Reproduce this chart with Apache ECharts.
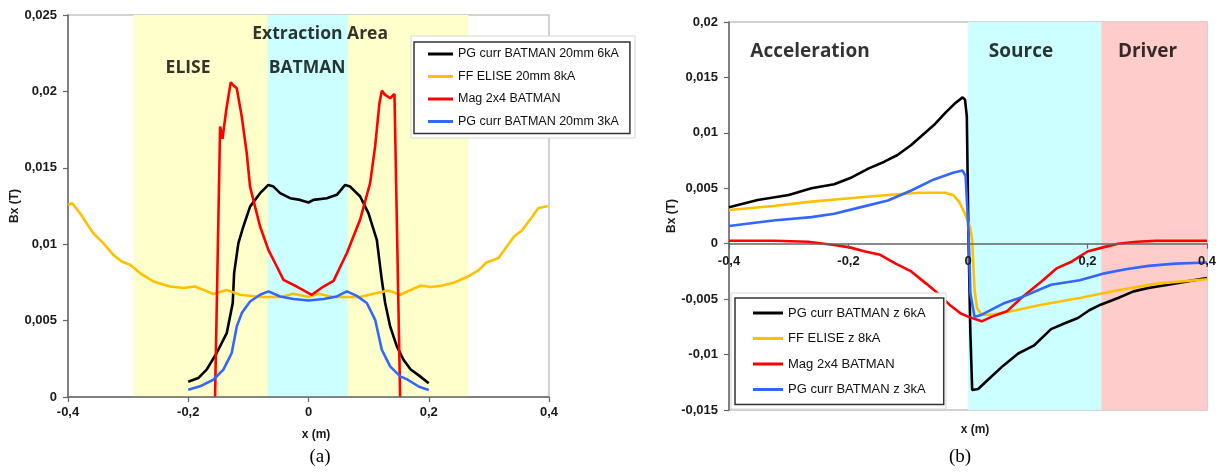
<!DOCTYPE html>
<html><head><meta charset="utf-8">
<script src="https://cdn.jsdelivr.net/npm/echarts@6.0.0/dist/echarts.min.js"></script>
<style>html,body{margin:0;padding:0;background:#fff}#c{width:1220px;height:475px}</style>
</head><body><div id="c"></div>
<script>
// ---------- DATA ----------
const leftNames = ['PG curr BATMAN 20mm 6kA', 'FF ELISE 20mm 8kA', 'Mag 2x4 BATMAN', 'PG curr BATMAN 20mm 3kA'];
const rightNames = ['PG curr BATMAN z 6kA', 'FF ELISE z 8kA', 'Mag 2x4 BATMAN', 'PG curr BATMAN z 3kA'];

const leftBlack = [[-0.2,0.00100],[-0.1833,0.00124],[-0.1694,0.00179],[-0.1527,0.00288],[-0.136,0.00418],[-0.126,0.00615],[-0.1237,0.00811],[-0.1166,0.01007],[-0.1083,0.01116],[-0.0972,0.01246],[-0.0805,0.01334],[-0.0667,0.01388],[-0.0583,0.01377],[-0.0472,0.01334],[-0.0306,0.01301],[-0.0139,0.0129],[0,0.01273],[0.0083,0.0129],[0.0305,0.01301],[0.0471,0.01323],[0.061,0.01388],[0.0693,0.01377],[0.0859,0.01312],[0.0997,0.01203],[0.1136,0.01029],[0.1219,0.00767],[0.1275,0.00615],[0.1358,0.00462],[0.1469,0.00331],[0.158,0.00244],[0.17,0.0018],[0.184,0.0014],[0.2,0.0009]];
const leftYellow = [[-0.4,0.01257],[-0.393,0.01268],[-0.38,0.01203],[-0.358,0.01072],[-0.3413,0.01007],[-0.3246,0.0093],[-0.3107,0.00887],[-0.2968,0.00865],[-0.2802,0.00811],[-0.258,0.00756],[-0.2303,0.00723],[-0.2081,0.00713],[-0.1887,0.00723],[-0.1749,0.00701],[-0.1583,0.00674],[-0.1361,0.00701],[-0.1138,0.00669],[-0.0805,0.00654],[-0.047,0.00654],[-0.025,0.00676],[0,0.00654],[0.0166,0.00676],[0.041,0.00654],[0.0858,0.00654],[0.1081,0.00676],[0.1331,0.00697],[0.1524,0.00669],[0.17,0.0070],[0.187,0.0073],[0.203,0.0072],[0.223,0.0073],[0.243,0.0075],[0.266,0.0079],[0.283,0.0083],[0.296,0.0088],[0.316,0.0091],[0.329,0.0098],[0.342,0.0105],[0.355,0.0109],[0.372,0.0118],[0.382,0.01235],[0.398,0.0125]];
const leftRed = [[-0.1554,0],[-0.147,0.0177],[-0.143,0.0169],[-0.1404,0.0177],[-0.136,0.019],[-0.1293,0.0206],[-0.125,0.0204],[-0.1193,0.0202],[-0.111,0.01835],[-0.1027,0.01595],[-0.0972,0.01377],[-0.0889,0.01246],[-0.0805,0.01116],[-0.0667,0.00963],[-0.0527,0.00854],[-0.0416,0.00767],[-0.0196,0.00723],[0.0055,0.00669],[0.0249,0.00723],[0.0416,0.0076],[0.0638,0.00942],[0.0858,0.0116],[0.1025,0.0140],[0.1108,0.0164],[0.118,0.01923],[0.1219,0.02005],[0.1275,0.01977],[0.1358,0.01955],[0.143,0.01983],[0.1457,0.01977],[0.1524,0]];
const leftBlue = [[-0.2,0.00048],[-0.1805,0.0007],[-0.1583,0.00113],[-0.1416,0.00179],[-0.1277,0.00288],[-0.1193,0.00462],[-0.111,0.00549],[-0.0972,0.00625],[-0.0805,0.00669],[-0.0667,0.00691],[-0.0472,0.00658],[-0.025,0.00641],[0,0.00632],[0.025,0.00641],[0.0471,0.00658],[0.0638,0.00691],[0.0804,0.00662],[0.097,0.00615],[0.1109,0.00505],[0.1219,0.00309],[0.1358,0.0020],[0.1525,0.00135],[0.164,0.00115],[0.184,0.00067],[0.2,0.00046]];

const rightBlack = [[-0.4,0.00328],[-0.352,0.00395],[-0.3,0.0044],[-0.262,0.0050],[-0.224,0.00536],[-0.198,0.0059],[-0.166,0.0068],[-0.14,0.0074],[-0.118,0.0080],[-0.095,0.0089],[-0.076,0.0098],[-0.057,0.0107],[-0.038,0.0118],[-0.021,0.0127],[-0.009,0.0132],[-0.005,0.0130],[-0.002,0.0115],[0.001,0.0],[0.004,-0.0081],[0.007,-0.0132],[0.017,-0.0131],[0.033,-0.0123],[0.059,-0.0110],[0.084,-0.0099],[0.11,-0.0092],[0.139,-0.0077],[0.161,-0.0072],[0.184,-0.0067],[0.203,-0.0060],[0.222,-0.0055],[0.251,-0.0049],[0.277,-0.0043],[0.302,-0.0040],[0.335,-0.0037],[0.367,-0.0034],[0.4,-0.0031]];
const rightYellow = [[-0.4,0.00304],[-0.326,0.0034],[-0.262,0.0038],[-0.198,0.0041],[-0.134,0.0044],[-0.082,0.0046],[-0.038,0.0046],[-0.025,0.0044],[-0.015,0.0038],[-0.005,0.0027],[0.004,0.0014],[0.007,0.0003],[0.011,-0.0042],[0.015,-0.0058],[0.023,-0.0064],[0.039,-0.0064],[0.072,-0.0061],[0.123,-0.0055],[0.187,-0.0049],[0.251,-0.0042],[0.315,-0.0036],[0.4,-0.0032]];
const rightRed = [[-0.4,0.00027],[-0.326,0.00027],[-0.268,0.00018],[-0.224,-0.00012],[-0.198,-0.00033],[-0.172,-0.0007],[-0.147,-0.001],[-0.121,-0.0018],[-0.095,-0.0025],[-0.07,-0.0036],[-0.05,-0.0045],[-0.031,-0.0055],[-0.012,-0.0063],[0.001,-0.0066],[0.023,-0.0070],[0.039,-0.0066],[0.065,-0.0061],[0.091,-0.0048],[0.123,-0.0034],[0.149,-0.0022],[0.174,-0.0016],[0.2,-0.0007],[0.226,-0.00033],[0.251,0.0],[0.283,0.00018],[0.315,0.00027],[0.4,0.00027]];
const rightBlue = [[-0.4,0.0016],[-0.326,0.0021],[-0.262,0.0024],[-0.224,0.0027],[-0.179,0.0033],[-0.134,0.0039],[-0.095,0.0048],[-0.057,0.0058],[-0.025,0.0064],[-0.009,0.0066],[-0.004,0.0061],[0.001,0.0009],[0.004,-0.0045],[0.011,-0.0066],[0.023,-0.0064],[0.059,-0.0054],[0.091,-0.0048],[0.139,-0.0037],[0.187,-0.0033],[0.226,-0.0027],[0.264,-0.0023],[0.302,-0.0020],[0.347,-0.0018],[0.4,-0.0017]];

const leftBandEdges = [[-0.291, 0.266], [-0.068, 0.065]];
const rightBandEdges = [[0, 0.223], [0.223, 0.4]];
const leftRegionLabels = [['Extraction Area', 0.0193, 0.02376], ['ELISE', -0.2003, 0.02153], ['BATMAN', -0.0023, 0.02153]];
const rightRegionLabels = [['Acceleration', -0.2644, 0.01729], ['Source', 0.0887, 0.01729], ['Driver', 0.3004, 0.01729]];
const rightYRange = [-0.015, 0.02];

// ---------- STYLE ----------
const lineColors = ['#000000', '#FFC000', '#FF0000', '#3366FF'];
const leftBandColors = ['#FFFFCC', '#CCFFFF'];
const rightBandColors = ['#CCFFFF', '#FFCCCC'];
const fmt = v => String(Math.round(v * 1e6) / 1e6).replace('.', ',');
const tickFont = { fontFamily: 'Liberation Sans', fontWeight: 'bold', fontSize: 13, color: '#1a1a1a' };

function axisX(gi, margin) {
  return {
    type: 'value', gridIndex: gi, min: -0.4, max: 0.4, interval: 0.2, position: 'bottom', z: 5,
    axisLine: { show: true, onZero: false, lineStyle: { color: '#666', width: 1.5 } },
    axisTick: { show: true, length: 5, lineStyle: { color: '#666', width: 1.2 } },
    axisLabel: Object.assign({ formatter: fmt, margin: margin }, tickFont),
    splitLine: { show: false }
  };
}
function axisY(gi, min, max, gap) {
  return {
    type: 'value', gridIndex: gi, min: min, max: max, interval: 0.005,
    name: 'Bx (T)', nameLocation: 'middle', nameGap: gap,
    nameTextStyle: { fontFamily: 'Liberation Sans', fontWeight: 'bold', fontSize: 12, color: '#1a1a1a' },
    axisLine: { show: true, onZero: false, lineStyle: { color: '#666', width: 1.5 } },
    axisTick: { show: true, length: 5, lineStyle: { color: '#666', width: 1.2 } },
    axisLabel: Object.assign({ formatter: fmt, margin: 11 }, tickFont),
    splitLine: { show: false }
  };
}
function lineSeries(name, data, i, gi) {
  return {
    type: 'line', name: name, data: data, xAxisIndex: gi, yAxisIndex: gi,
    showSymbol: false, symbol: 'none', z: 3, color: lineColors[i],
    lineStyle: { color: lineColors[i], width: 2.6 }, itemStyle: { color: lineColors[i] },
    animation: false
  };
}
function bandSeries(edges, colors, gi) {
  return {
    type: 'line', data: [], xAxisIndex: gi, yAxisIndex: gi, z: 1, silent: true,
    markArea: { silent: true, data: edges.map((e, k) => [
      { xAxis: e[0], itemStyle: { color: colors[k] } }, { xAxis: e[1] }]) }
  };
}
function labelSeries(labels, gi, size) {
  return {
    type: 'scatter', xAxisIndex: gi, yAxisIndex: gi, z: 4, silent: true, symbolSize: 1,
    itemStyle: { color: 'rgba(0,0,0,0)' },
    data: labels.map(l => ({ name: l[0], value: [l[1], l[2]] })),
    label: { show: true, position: 'inside', formatter: '{b}', fontFamily: 'Open Sans',
      fontWeight: 'bold', fontSize: size, color: '#000', textBorderWidth: 0 }
  };
}
function legend(names, left, top, fontSize, itemWidth, itemGap, padding, lh) {
  return {
    data: names, orient: 'vertical', left: left, top: top, icon: 'rect',
    itemWidth: itemWidth, itemHeight: 3, itemGap: itemGap, padding: padding,
    backgroundColor: '#fff', borderColor: '#333', borderWidth: 1.5, borderRadius: 0,
    textStyle: { fontFamily: 'Liberation Sans', fontSize: fontSize, color: '#111', lineHeight: lh },
    selectedMode: false, z: 7
  };
}

const chart = echarts.init(document.getElementById('c'), null, { renderer: 'canvas' });
const leftData = [leftBlack, leftYellow, leftRed, leftBlue];
const rightData = [rightBlack, rightYellow, rightRed, rightBlue];
const seriesList = [bandSeries(leftBandEdges, leftBandColors, 0), bandSeries(rightBandEdges, rightBandColors, 1)];
leftData.forEach((d, i) => seriesList.push(lineSeries(leftNames[i], d, i, 0)));
rightData.forEach((d, i) => seriesList.push(lineSeries(rightNames[i], d, i, 1)));
seriesList.push(labelSeries(leftRegionLabels, 0, 17.5));
seriesList.push(labelSeries(rightRegionLabels, 1, 19));

const captionFont = { fontFamily: 'Liberation Sans', fontWeight: 'bold', fontSize: 12, fill: '#1a1a1a' };
chart.setOption({
  animation: false,
  backgroundColor: '#fff',
  grid: [
    { left: 68, top: 15, width: 481, height: 382, show: true, borderColor: '#c4c4c4', borderWidth: 1.5 },
    { left: 729, top: 22, width: 478, height: 388, show: true, borderColor: '#c4c4c4', borderWidth: 1.5 }
  ],
  xAxis: [axisX(0, 9), axisX(1, 11)],
  yAxis: [axisY(0, 0, 0.025, 45), axisY(1, rightYRange[0], rightYRange[1], 51)],
  legend: [
    legend(leftNames, 414, 42, 12.5, 25, 8.5, [5, 11, 5, 14], 14),
    legend(rightNames, 735, 298, 13, 30, 9.5, [7, 18, 7, 18], 16)
  ],
  series: seriesList,
  graphic: [
    { type: 'rect', z: 6, shape: { x: 411, y: 36, width: 224, height: 102 }, style: { fill: '#fff', stroke: '#d6d6d6', lineWidth: 1 } },
    { type: 'rect', z: 6, shape: { x: 731, y: 293, width: 215, height: 116 }, style: { fill: '#fff', stroke: '#d6d6d6', lineWidth: 1 } },
    { type: 'text', z: 8, x: 316, y: 435, style: Object.assign({ text: 'x (m)', align: 'center', verticalAlign: 'middle' }, captionFont) },
    { type: 'text', z: 8, x: 975, y: 430, style: Object.assign({ text: 'x (m)', align: 'center', verticalAlign: 'middle' }, captionFont) },
    { type: 'text', z: 8, x: 320, y: 457, style: { text: '(a)', align: 'center', verticalAlign: 'middle', fontFamily: 'Liberation Serif', fontSize: 19, fill: '#000' } },
    { type: 'text', z: 8, x: 960, y: 457, style: { text: '(b)', align: 'center', verticalAlign: 'middle', fontFamily: 'Liberation Serif', fontSize: 19, fill: '#000' } }
  ]
});
// Put the right-hand x axis on the y = 0 line (computed through the y scale).
const yZeroPx = chart.convertToPixel({ yAxisIndex: 1 }, 0);
const yBottomPx = chart.convertToPixel({ yAxisIndex: 1 }, rightYRange[0]);
chart.setOption({ xAxis: [{}, { offset: yZeroPx - yBottomPx }] });
</script></body></html>
